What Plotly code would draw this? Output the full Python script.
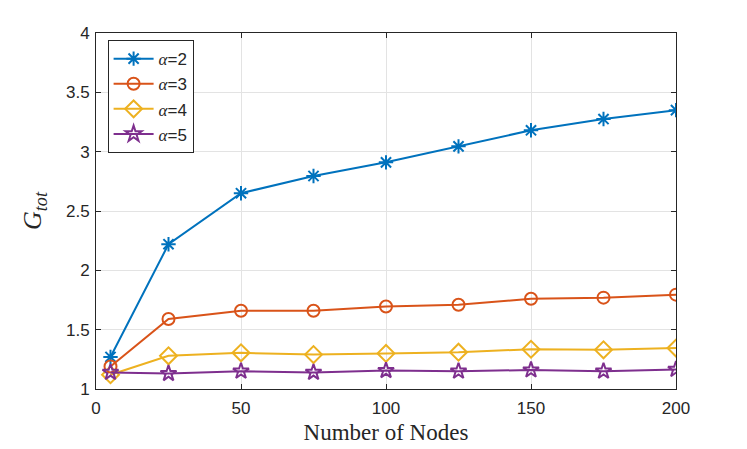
import plotly.graph_objects as go

nodes = [5, 25, 50, 75, 100, 125, 150, 175, 200]
g_alpha2 = [1.27, 2.22, 2.65, 2.795, 2.91, 3.045, 3.18, 3.275, 3.35]
g_alpha3 = [1.19, 1.59, 1.66, 1.66, 1.695, 1.71, 1.76, 1.77, 1.795]
g_alpha4 = [1.12, 1.28, 1.305, 1.29, 1.30, 1.31, 1.335, 1.33, 1.345]
g_alpha5 = [1.14, 1.13, 1.15, 1.14, 1.155, 1.15, 1.16, 1.15, 1.165]
x_ticks = [0, 50, 100, 150, 200]
y_ticks = [1, 1.5, 2, 2.5, 3, 3.5, 4]
y_tick_labels = ["1", "1.5", "2", "2.5", "3", "3.5", "4"]

series = [
    ("2", g_alpha2, "#0072BD", "asterisk-open", 12),
    ("3", g_alpha3, "#D95319", "circle-open", 12),
    ("4", g_alpha4, "#EDB120", "diamond-open", 13),
    ("5", g_alpha5, "#7E2F8E", "star-open", 12),
]

fig = go.Figure()
for a, vals, col, sym, sz in series:
    fig.add_trace(go.Scatter(
        x=nodes, y=vals, mode="lines+markers",
        name='<span style="font-family:Liberation Serif"><i>α</i></span>=' + a,
        line=dict(color=col, width=2),
        marker=dict(symbol=sym, size=sz, color=col, line=dict(color=col, width=2)),
    ))

axis_common = dict(
    showline=True, linecolor="#262626", linewidth=1, mirror="ticks",
    ticks="inside", ticklen=5, tickcolor="#262626",
    showgrid=True, gridcolor="#e3e3e3", gridwidth=1, zeroline=False,
    tickfont=dict(family="Liberation Sans", size=17, color="#262626"),
    automargin=False,
)

# page body has an 8px margin, so the figure is shrunk by that much
fig.update_xaxes(range=[0, 200], tickvals=x_ticks, ticklabelstandoff=4,
                 title=dict(text="Number of Nodes", standoff=6,
                            font=dict(family="Liberation Serif", size=23, color="#262626")),
                 **axis_common)
fig.update_yaxes(range=[1, 4], tickvals=y_ticks, ticktext=y_tick_labels,
                 ticklabelstandoff=2,
                 title=dict(text="<i>G</i><sub><i>tot</i></sub>", standoff=16,
                            font=dict(family="Liberation Serif", size=26, color="#262626")),
                 **axis_common)

fig.update_layout(
    width=739, height=441,
    margin=dict(l=88, r=71, t=25, b=60),
    plot_bgcolor="white", paper_bgcolor="white",
    showlegend=True,
    legend=dict(x=0.02, y=0.98, xanchor="left", yanchor="top",
                bgcolor="white", bordercolor="#262626", borderwidth=1,
                font=dict(family="Liberation Sans", size=17, color="#262626"),
                itemwidth=40),
)

fig.write_html("out.html")
